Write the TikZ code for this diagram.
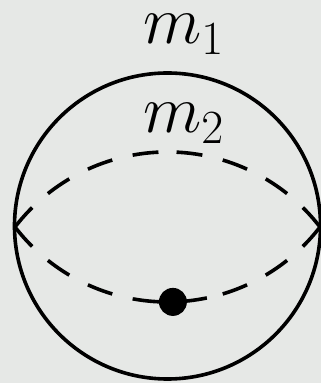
\RequirePackage{fix-cm}
\documentclass[tikz,border=0pt]{standalone}
\definecolor{bggray}{RGB}{230,232,230}
\begin{document}
\begin{tikzpicture}[x=1pt,y=1pt,
  prop/.style={line width=3.6pt},
  dprop/.style={prop,dash pattern=on 26pt off 21pt},
  lab/.style={font=\fontsize{68}{70}\selectfont,inner sep=0pt,anchor=base},
  vertex/.style={circle,fill=black,minimum size=28pt,inner sep=0pt}]
\fill[bggray] (0,0) rectangle (321,383);
\useasboundingbox (0,0) rectangle (321,383);
\coordinate (c) at (167.5,157);
\coordinate (uc) at (167.5,38.5);
\coordinate (lc) at (167.5,273.5);
\coordinate (L) at (15,156);
\coordinate (R) at (320,156);
% outer circle
\draw[prop] (c) circle[radius=153];
% upper dashed arc, from both ends to the top
\draw[dprop] (L) arc[start angle=142.4,end angle=90,radius=192.5];
\draw[dprop] (R) arc[start angle=37.6,end angle=90,radius=192.5];
% lower dashed arc, from both ends to the solid part
\draw[dprop] (L) arc[start angle=217.6,end angle=259.7,radius=192.5];
\draw[dprop] (R) arc[start angle=322.4,end angle=281.8,radius=192.5];
\draw[prop] (lc) ++(259.7:192.5) arc[start angle=259.7,end angle=281.8,radius=192.5];
\node[vertex] (v) at (172.9,81.1) {};
% labels
\node[lab] (m1) at (183.5,339) {$m_1$};
\node[lab] (m2) at (183.5,250) {$m_2$};
\end{tikzpicture}
\end{document}
